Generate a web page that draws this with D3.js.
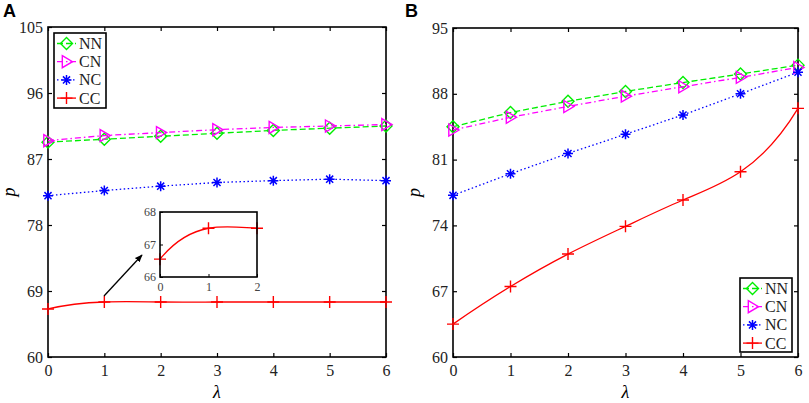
<!DOCTYPE html>
<html><head><meta charset="utf-8">
<script src="https://cdn.jsdelivr.net/npm/d3@7/dist/d3.min.js"></script>
<style>body{margin:0;background:#fff}svg{display:block}</style>
</head><body>
<svg id="chart" width="809" height="403"></svg>
<script>
const lambdas = [0,1,2,3,4,5,6];
const seriesNames = ["NN","CN","NC","CC"];
// Panel A
const aNN = [89.3, 89.7, 90.1, 90.5, 90.9, 91.2, 91.5];
const aCN = [89.5, 90.2, 90.6, 91.0, 91.3, 91.5, 91.7];
const aNC = [82.0, 82.7, 83.3, 83.8, 84.05, 84.25, 84.05];
const aCC = [66.55, 67.5, 67.5, 67.5, 67.5, 67.5, 67.5];
const aTicks = [60,69,78,87,96,105];
// Panel B
const bNN = [84.5, 86.0, 87.2, 88.25, 89.2, 90.1, 91.05];
const bCN = [84.15, 85.5, 86.65, 87.75, 88.75, 89.75, 90.8];
const bNC = [77.2, 79.5, 81.65, 83.7, 85.75, 88.0, 90.3];
const bCC = [63.5, 67.5, 70.95, 73.9, 76.7, 79.7, 86.45];
const bTicks = [60,67,74,81,88,95];
// Inset (zoom of panel A CC over λ in [0,2])
const insetXTicks = [0,1,2];
const insetYTicks = [66,67,68];

const colors = {NN:"#00ee00", CN:"#ff00ff", NC:"#0000ff", CC:"#ff0000"};
const dashes = {NN:"6,3", CN:"6,3,1.5,3", NC:"1.5,2.5", CC:null};
const serif = "'Liberation Serif','Times New Roman',serif";
const fmt = d3.format("d");
const svg = d3.select("#chart");

// not-a-knot cubic spline curve factory (like MATLAB spline) for d3.line
function curveSpline(context) {
  let pts;
  return {
    areaStart(){}, areaEnd(){},
    lineStart(){ pts = []; },
    point(x,y){ pts.push([x,+y]); },
    lineEnd(){
      const n = pts.length;
      if (n < 4) { d3.curveNatural(context).lineStart(); return; }
      const h = pts.map((p,i)=> i<n-1 ? pts[i+1][0]-p[0] : 0);
      const A = Array.from({length:n},()=>new Array(n).fill(0));
      const b = new Array(n).fill(0);
      // not-a-knot conditions (general spacing)
      A[0][0]=h[1]; A[0][1]=-(h[0]+h[1]); A[0][2]=h[0];
      for (let i=1;i<n-1;i++){
        A[i][i-1]=h[i-1]; A[i][i]=2*(h[i-1]+h[i]); A[i][i+1]=h[i];
        b[i]=6*((pts[i+1][1]-pts[i][1])/h[i]-(pts[i][1]-pts[i-1][1])/h[i-1]);
      }
      A[n-1][n-3]=h[n-2]; A[n-1][n-2]=-(h[n-3]+h[n-2]); A[n-1][n-1]=h[n-3];
      // gaussian elimination with pivoting
      for (let c=0;c<n;c++){
        let pr=c; for(let r=c+1;r<n;r++) if(Math.abs(A[r][c])>Math.abs(A[pr][c])) pr=r;
        [A[c],A[pr]]=[A[pr],A[c]]; [b[c],b[pr]]=[b[pr],b[c]];
        for(let r=c+1;r<n;r++){ const f=A[r][c]/A[c][c]; for(let k=c;k<n;k++) A[r][k]-=f*A[c][k]; b[r]-=f*b[c]; }
      }
      const M=new Array(n).fill(0);
      for(let r=n-1;r>=0;r--){ let s=b[r]; for(let k=r+1;k<n;k++) s-=A[r][k]*M[k]; M[r]=s/A[r][r]; }
      const m = pts.map((p,i)=> i<n-1
        ? (pts[i+1][1]-p[1])/h[i] - h[i]*(2*M[i]+M[i+1])/6
        : (p[1]-pts[i-1][1])/h[i-1] + h[i-1]*(M[i-1]+2*M[i])/6);
      context.moveTo(pts[0][0],pts[0][1]);
      for(let i=0;i<n-1;i++){
        const hh=h[i];
        context.bezierCurveTo(pts[i][0]+hh/3, pts[i][1]+hh*m[i]/3,
                              pts[i+1][0]-hh/3, pts[i+1][1]-hh*m[i+1]/3,
                              pts[i+1][0], pts[i+1][1]);
      }
    }
  };
}

function marker(g, name, x, y, s) {
  const c = colors[name];
  const p = g.append("path").attr("fill","none").attr("stroke",c).attr("stroke-width",1.4)
    .attr("transform",`translate(${x},${y})`);
  if (name==="NN") p.attr("d",`M0,${-s}L${s},0L0,${s}L${-s},0Z`);
  else if (name==="CN") p.attr("d",`M${-s*0.7},${-s}L${s},0L${-s*0.7},${s}Z`);
  else if (name==="NC") { const a=s, d=a*0.707; p.attr("stroke-width",1.5).attr("d",`M${-a},0L${a},0M0,${-a}L0,${a}M${-d},${-d}L${d},${d}M${-d},${d}L${d},${-d}`); }
  else p.attr("d",`M${-s},0L${s},0M0,${-s}L0,${s}`);
}

function panel(opt) {
  const x = d3.scaleLinear().domain([0,6]).range([opt.x0, opt.x1]);
  const y = d3.scaleLinear().domain(opt.ydom).range([opt.y1, opt.y0]);
  const g = svg.append("g");
  const tl = 4;
  const gb = g.append("g").attr("transform",`translate(0,${opt.y1})`).call(d3.axisBottom(x).tickValues(lambdas).tickFormat(fmt).tickSizeInner(-tl).tickSizeOuter(0).tickPadding(8));
  const gt = g.append("g").attr("transform",`translate(0,${opt.y0})`).call(d3.axisTop(x).tickValues(lambdas).tickSizeInner(-tl).tickSizeOuter(0).tickFormat(""));
  const gl = g.append("g").attr("transform",`translate(${opt.x0},0)`).call(d3.axisLeft(y).tickValues(opt.ticks).tickFormat(fmt).tickSizeInner(-tl).tickSizeOuter(0).tickPadding(5));
  const gr = g.append("g").attr("transform",`translate(${opt.x1},0)`).call(d3.axisRight(y).tickValues(opt.ticks).tickSizeInner(-tl).tickSizeOuter(0).tickFormat(""));
  [gb,gt,gl,gr].forEach(a=>{
    a.select(".domain").remove();
    a.selectAll("line").attr("stroke","#000").attr("stroke-width",1.2);
    a.selectAll("text").attr("font-family",serif).attr("font-size",16).attr("fill","#222");
  });
  g.append("rect").attr("x",opt.x0).attr("y",opt.y0).attr("width",opt.x1-opt.x0).attr("height",opt.y1-opt.y0)
    .attr("fill","none").attr("stroke","#000").attr("stroke-width",1.6);
  const data = {NN:opt.NN, CN:opt.CN, NC:opt.NC, CC:opt.CC};
  seriesNames.forEach(n=>{
    const pts = lambdas.map((l,i)=>[x(l), y(data[n][i])]);
    const line = d3.line().curve(n==="CC"?curveSpline:d3.curveLinear);
    const p = g.append("path").attr("d",line(pts)).attr("fill","none").attr("stroke",colors[n]).attr("stroke-width",1.3);
    if (dashes[n]) p.attr("stroke-dasharray",dashes[n]);
    pts.forEach(pt=>marker(g,n,pt[0],pt[1],n==="NC"?5:6));
  });
  g.append("text").attr("x",opt.labx).attr("y",17).attr("font-family","'Liberation Sans',Arial,sans-serif")
    .attr("font-weight","bold").attr("font-size",18).text(opt.label);
  g.append("text").attr("transform",`translate(${opt.x0-33},${(opt.y0+opt.y1)/2}) rotate(-90)`)
    .attr("text-anchor","middle").attr("font-family",serif).attr("font-style","italic").attr("font-size",18).text("p");
  g.append("text").attr("x",(opt.x0+opt.x1)/2).attr("y",398).attr("text-anchor","middle")
    .attr("font-family",serif).attr("font-style","italic").attr("font-size",18).text("λ");
  const L = opt.leg;
  const lg = g.append("g");
  lg.append("rect").attr("x",L.x).attr("y",L.y).attr("width",L.w).attr("height",L.h).attr("fill","#fff").attr("stroke","#000").attr("stroke-width",1.6);
  seriesNames.forEach((n,i)=>{
    const cy = L.y + 10.5 + i*18.2;
    const l = lg.append("line").attr("x1",L.x+3).attr("x2",L.x+22).attr("y1",cy).attr("y2",cy).attr("stroke",colors[n]).attr("stroke-width",1.3);
    if (dashes[n]) l.attr("stroke-dasharray",dashes[n]);
    marker(lg,n,L.x+12.5,cy,n==="NC"?5:6);
    lg.append("text").attr("x",L.x+25).attr("y",cy+5.5).attr("font-family",serif).attr("font-size",16).attr("fill","#222").text(n);
  });
  return {x,y,g};
}

panel({x0:48,x1:386,y0:27,y1:357,ydom:[60,105],ticks:aTicks,NN:aNN,CN:aCN,NC:aNC,CC:aCC,label:"A",labx:3,
  leg:{x:54,y:33,w:52,h:75}});
panel({x0:453,x1:798,y0:28,y1:357,ydom:[60,95],ticks:bTicks,NN:bNN,CN:bCN,NC:bNC,CC:bCC,label:"B",labx:405,
  leg:{x:740,y:278,w:52,h:74}});

// inset
const ix = d3.scaleLinear().domain([0,2]).range([160,257]);
const iy = d3.scaleLinear().domain([66,68]).range([277,212]);
const ig = svg.append("g");
svg.append("defs").append("clipPath").attr("id","insetclip").append("rect").attr("x",160).attr("y",212).attr("width",97).attr("height",65);
ig.append("rect").attr("x",160).attr("y",212).attr("width",97).attr("height",65).attr("fill","#fff");
const ib = ig.append("g").attr("transform","translate(0,277)").call(d3.axisBottom(ix).tickValues(insetXTicks).tickFormat(fmt).tickSizeInner(-3).tickSizeOuter(0).tickPadding(5));
const il = ig.append("g").attr("transform","translate(160,0)").call(d3.axisLeft(iy).tickValues(insetYTicks).tickFormat(fmt).tickSizeInner(-3).tickSizeOuter(0).tickPadding(4));
[ib,il].forEach(a=>{
  a.select(".domain").remove();
  a.selectAll("line").attr("stroke","#000");
  a.selectAll("text").attr("font-family",serif).attr("font-size",12).attr("fill","#444");
});
const ipts = lambdas.map((v,i)=>[ix(v), iy(aCC[i])]);
ig.append("path").attr("clip-path","url(#insetclip)").attr("d",d3.line().curve(curveSpline)(ipts)).attr("fill","none").attr("stroke",colors.CC).attr("stroke-width",1.3);
lambdas.forEach((v,i)=>{ if (v<=2) marker(ig,"CC",ipts[i][0],ipts[i][1],6); });
ig.append("rect").attr("x",160).attr("y",212).attr("width",97).attr("height",65).attr("fill","none").attr("stroke","#000").attr("stroke-width",1.6);
svg.select("defs").append("marker").attr("id","ah").attr("viewBox","0 0 10 10").attr("refX",9).attr("refY",5)
  .attr("markerWidth",6).attr("markerHeight",6).attr("orient","auto")
  .append("path").attr("d","M0,1L10,5L0,9Z").attr("fill","#000");
svg.append("line").attr("x1",104).attr("y1",296).attr("x2",142).attr("y2",255).attr("stroke","#000").attr("stroke-width",1.3).attr("marker-end","url(#ah)");
</script>
</body></html>
